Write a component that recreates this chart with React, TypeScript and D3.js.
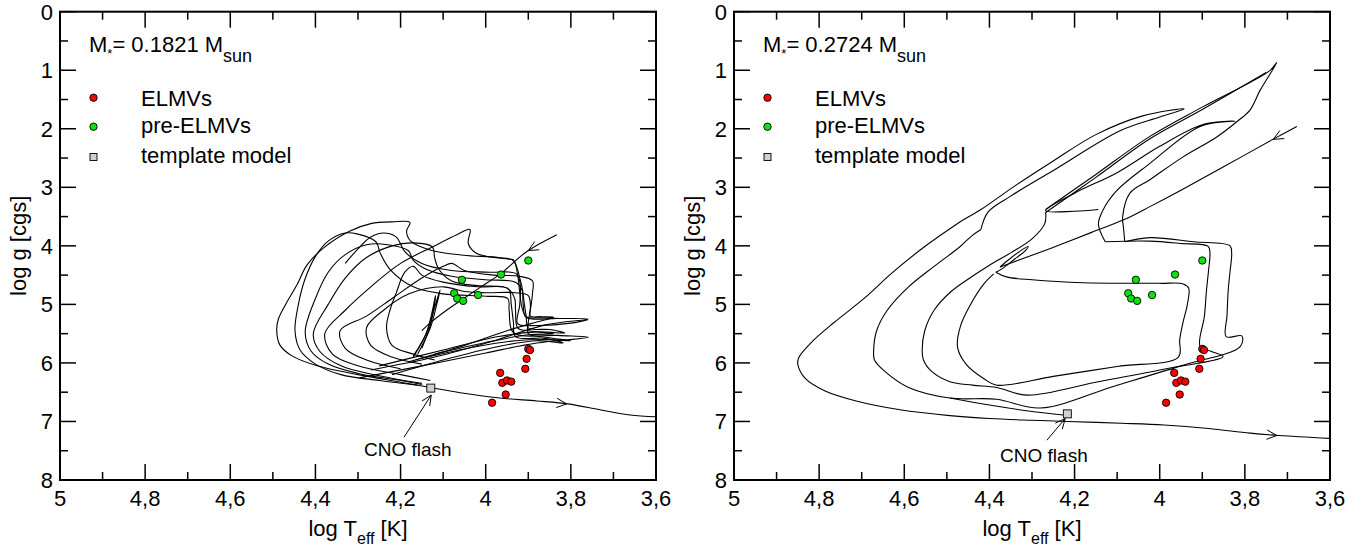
import React from "react";
import * as d3 from "d3";

type P = [number, number];

const xMajor = [5, 4.8, 4.6, 4.4, 4.2, 4, 3.8, 3.6];
const xMajorLabels = ["5", "4,8", "4,6", "4,4", "4,2", "4", "3,8", "3,6"];
const xMinor = [4.9, 4.7, 4.5, 4.3, 4.1, 3.9, 3.7];
const yMajor = [0, 1, 2, 3, 4, 5, 6, 7, 8];
const yMinor = [0.5, 1.5, 2.5, 3.5, 4.5, 5.5, 6.5, 7.5];

const elmvs: P[] = [
  [3.9, 5.76], [3.896, 5.78], [3.904, 5.93], [3.907, 6.1], [3.966, 6.17],
  [3.961, 6.34], [3.95, 6.3], [3.94, 6.32], [3.953, 6.54], [3.985, 6.68],
];
const preElmvs: P[] = [
  [3.9, 4.25], [3.964, 4.49], [4.056, 4.58], [4.074, 4.81], [4.067, 4.9],
  [4.053, 4.94], [4.018, 4.84],
];

// ---------- left panel (0.1821 Msun) tracks ----------
const lArrival: P[] = [[3.833, 3.81], [3.904, 4.1], [3.964, 4.47], [4.013, 4.71], [4.056, 4.92], [4.092, 5.1], [4.131, 5.32], [4.15, 5.45]];
const lOuter: P[] = [
  [3.84, 5.22], [3.875, 5.23], [3.905, 5.21], [3.915, 5.05], [3.92, 4.8], [3.925, 4.5], [3.935, 4.25], [3.97, 4.2],
  [4.053, 4.16], [4.131, 4.07], [4.176, 3.92], [4.186, 3.75], [4.178, 3.6], [4.22, 3.59], [4.27, 3.62], [4.32, 3.75],
  [4.38, 4.03], [4.42, 4.33], [4.443, 4.66], [4.47, 5.0], [4.487, 5.25], [4.491, 5.44], [4.483, 5.7], [4.455, 5.88],
  [4.4, 6.04], [4.3, 6.2], [4.2, 6.33], [4.13, 6.42], [4.06, 6.51], [3.967, 6.6], [3.88, 6.65], [3.807, 6.7],
  [3.732, 6.8], [3.661, 6.89], [3.6, 6.92],
];
const lB: P[] = [
  [4.3, 6.26], [4.15, 6.05], [4.0, 5.83], [3.88, 5.66], [3.759, 5.56], [3.83, 5.53], [3.935, 5.48], [3.945, 5.1],
  [3.948, 4.9], [4.0, 4.86], [4.1, 4.82], [4.17, 4.7], [4.225, 4.4], [4.248, 4.12], [4.258, 3.93], [4.3, 3.8],
  [4.33, 3.78], [4.37, 3.92], [4.4, 4.18], [4.425, 4.58], [4.44, 5.0], [4.448, 5.45], [4.436, 5.78], [4.4, 6.02],
  [4.34, 6.2], [4.25, 6.3], [4.16, 6.38],
];
const lC: P[] = [
  [4.27, 6.12], [4.12, 5.9], [3.98, 5.62], [3.86, 5.35], [3.759, 5.25], [3.83, 5.24], [3.905, 5.22], [3.912, 5.0],
  [3.915, 4.75], [3.93, 4.62], [4.0, 4.58], [4.08, 4.52], [4.14, 4.4], [4.17, 4.25], [4.182, 4.08], [4.23, 3.98],
  [4.28, 3.98], [4.33, 4.15], [4.37, 4.45], [4.4, 4.9], [4.424, 5.47], [4.41, 5.8], [4.37, 6.02], [4.3, 6.18],
  [4.2, 6.3], [4.15, 6.37],
];
const lD: P[] = [
  [4.22, 6.2], [4.1, 5.95], [3.97, 5.72], [3.88, 5.62], [3.818, 5.66], [3.86, 5.58], [3.93, 5.55], [3.935, 5.3],
  [3.94, 5.0], [3.945, 4.75], [3.96, 4.7], [4.02, 4.68], [4.08, 4.6], [4.11, 4.4], [4.12, 4.2], [4.125, 4.02],
  [4.17, 3.95], [4.22, 4.0], [4.28, 4.2], [4.33, 4.55], [4.37, 5.0], [4.405, 5.5], [4.39, 5.8], [4.34, 6.05],
  [4.25, 6.22], [4.15, 6.35],
];
const lE: P[] = [
  [4.25, 6.05], [4.1, 5.78], [3.97, 5.55], [3.88, 5.47], [3.814, 5.49], [3.85, 5.43], [3.9, 5.4], [3.905, 5.2],
  [3.91, 4.95], [3.915, 4.7], [3.935, 4.24], [3.943, 4.23], [4.021, 4.13], [4.041, 3.96], [4.037, 3.72], [4.068, 3.81],
  [4.123, 4.01], [4.2, 4.3], [4.27, 4.7], [4.33, 5.1], [4.378, 5.5], [4.36, 5.85], [4.3, 6.05], [4.2, 6.2], [4.13, 6.3],
];
const lF: P[] = [
  [4.18, 5.98], [4.05, 5.7], [3.95, 5.45], [3.88, 5.3], [3.841, 5.22], [3.87, 5.21], [3.895, 5.2], [3.893, 5.0],
  [3.89, 4.8], [3.89, 4.6], [3.92, 4.52], [3.98, 4.5], [4.05, 4.42], [4.08, 4.3], [4.1, 4.35], [4.15, 4.55],
  [4.22, 4.9], [4.28, 5.2], [4.342, 5.45], [4.33, 5.75], [4.28, 5.95], [4.2, 6.1],
];
const lG: P[] = [
  [4.15, 5.92], [4.02, 5.72], [3.93, 5.62], [3.86, 5.6], [3.8, 5.62], [3.86, 5.56], [3.9, 5.5], [3.9, 5.3],
  [3.895, 5.05], [3.9, 4.85], [3.93, 4.8], [4.0, 4.8], [4.05, 4.78], [4.1, 4.7], [4.18, 4.82], [4.24, 5.1],
  [4.28, 5.4], [4.27, 5.7], [4.22, 5.9], [4.15, 6.02],
];
const lH: P[] = [
  [4.12, 5.85], [4.0, 5.65], [3.9, 5.52], [3.84, 5.5], [3.9, 5.45], [3.925, 5.4], [3.93, 5.1], [3.932, 4.9],
  [3.95, 4.72], [4.02, 4.7], [4.1, 4.62], [4.15, 4.5], [4.17, 4.35], [4.19, 4.45], [4.21, 4.8], [4.225, 5.1],
  [4.233, 5.4], [4.22, 5.7], [4.17, 5.85], [4.12, 5.95],
];
const lI: P[] = [
  [4.33, 4.3], [4.3, 4.05], [4.27, 3.85], [4.24, 3.78], [4.21, 3.85], [4.19, 4.1], [4.15, 4.3], [4.08, 4.42],
  [3.99, 4.45], [3.93, 4.47], [3.92, 4.6], [3.92, 5.0], [3.925, 5.33], [3.88, 5.36], [3.8, 5.32], [3.76, 5.26],
];
const lSpike: P[] = [[4.17, 5.88], [4.14, 5.5], [4.12, 5.05], [4.107, 4.75], [4.115, 5.0], [4.13, 5.4], [4.16, 5.85]];
const lSpike2: P[] = [[4.15, 5.75], [4.13, 5.35], [4.12, 5.0], [4.118, 4.85], [4.125, 5.1], [4.14, 5.5], [4.17, 5.9]];

// ---------- right panel (0.2724 Msun) tracks ----------
const rArrival: P[] = [[3.678, 1.96], [3.729, 2.16], [3.85, 2.65], [3.95, 3.05], [4.023, 3.33], [4.086, 3.56], [4.16, 3.77], [4.23, 3.97], [4.3, 4.16], [4.375, 4.36]];
const rKnot: P[] = [[4.375, 4.36], [4.352, 4.22], [4.33, 4.1], [4.309, 4.01], [4.318, 4.1], [4.34, 4.22], [4.368, 4.38], [4.385, 4.45]];
const rOuter: P[] = [
  [4.465, 3.57], [4.548, 3.99], [4.63, 4.47], [4.693, 4.89], [4.765, 5.31], [4.817, 5.64], [4.848, 5.91], [4.85, 6.03],
  [4.832, 6.27], [4.786, 6.48], [4.713, 6.65], [4.61, 6.8], [4.493, 6.9], [4.4, 6.95], [4.3, 6.98], [4.216, 7.0],
  [4.09, 7.03], [3.99, 7.06], [3.885, 7.12], [3.788, 7.2], [3.72, 7.24], [3.597, 7.29],
];
const rU1: P[] = [
  [4.465, 3.57], [4.42, 3.38], [4.341, 2.98], [4.25, 2.55], [4.15, 2.1], [4.04, 1.78], [3.942, 1.66], [4.0, 1.8],
  [4.092, 2.03], [4.247, 2.7], [4.35, 3.15], [4.403, 3.42], [4.42, 3.72],
];
const rD: P[] = [
  [4.385, 4.45], [4.36, 4.53], [4.3, 4.58], [4.18, 4.63], [4.0, 4.64], [3.945, 4.65], [3.932, 4.72], [3.935, 5.0],
  [3.945, 5.3], [3.953, 5.6], [3.956, 5.9], [4.1, 6.06], [4.25, 6.23], [4.383, 6.38], [4.413, 6.27], [4.454, 6.03],
  [4.475, 5.73], [4.468, 5.37], [4.445, 5.01], [4.413, 4.65], [4.39, 4.48],
];
const rC: P[] = [
  [4.128, 3.93], [4.023, 3.92], [3.95, 3.96], [3.886, 4.01], [3.882, 4.12], [3.885, 4.4], [3.89, 4.75], [3.895, 5.2],
  [3.905, 5.72], [3.88, 5.8], [3.851, 5.89], [4.0, 6.12], [4.15, 6.33], [4.312, 6.55], [4.383, 6.42], [4.44, 6.38],
  [4.493, 6.32], [4.535, 6.15], [4.555, 5.95], [4.558, 5.79], [4.552, 5.45], [4.53, 5.1], [4.49, 4.78], [4.44, 4.52],
  [4.4, 4.33], [4.35, 4.12], [4.3, 3.88], [4.27, 3.62], [4.268, 3.42],
];
const rB: P[] = [
  [4.082, 3.93], [4.023, 3.86], [3.92, 3.93], [3.835, 4.0], [3.831, 4.13], [3.835, 4.45], [3.839, 4.75], [3.842, 5.2],
  [3.844, 5.55], [3.807, 5.54], [3.811, 5.72], [3.95, 6.05], [4.1, 6.38], [4.281, 6.77], [4.383, 6.62], [4.493, 6.6],
  [4.59, 6.42], [4.645, 6.15], [4.67, 5.95], [4.672, 5.79], [4.665, 5.45], [4.64, 5.1], [4.59, 4.7], [4.53, 4.35],
  [4.47, 4.02], [4.44, 3.82], [4.42, 3.72],
];
const rToSquare: P[] = [[4.493, 6.6], [4.4, 6.72], [4.3, 6.83], [4.227, 6.89]];
const rU2: P[] = [
  [4.082, 3.93], [4.085, 3.7], [4.087, 3.5], [4.07, 3.1], [4.023, 2.87], [3.945, 2.48], [3.866, 2.14], [3.819, 1.88],
  [3.788, 1.68], [3.764, 1.34], [3.725, 0.87], [3.742, 1.01], [3.9, 1.63], [4.023, 2.13], [4.15, 2.78], [4.268, 3.38],
];
const rU2b: P[] = [[4.268, 3.43], [4.15, 2.83], [4.023, 2.17], [3.9, 1.67], [3.75, 1.04]];
const rU3: P[] = [
  [4.128, 3.93], [4.144, 3.63], [4.134, 3.4], [4.1, 3.05], [4.023, 2.59], [3.905, 1.96], [3.823, 1.87], [3.9, 1.93],
  [4.0, 2.3], [4.1, 2.75], [4.2, 3.1], [4.268, 3.4], [4.2, 3.41], [4.144, 3.38],
];

const leftTracks: P[][] = [lArrival, lOuter, lB, lC, lD, lE, lF, lG, lH, lI, lSpike, lSpike2];
const rightTracks: P[][] = [rArrival, rKnot, rOuter, rU1, rD, rC, rB, rToSquare, rU2, rU2b, rU3];

type Arrow = { from: P; to: P };
const leftArrows: Arrow[] = [
  { from: [3.833, 3.81], to: [3.9, 4.08] },
  { from: [3.88, 6.65], to: [3.81, 6.7] },
];
const rightArrows: Arrow[] = [
  { from: [3.678, 1.96], to: [3.733, 2.18] },
  { from: [3.79, 7.2], to: [3.725, 7.24] },
];

const templateLeft: P = [4.129, 6.43];
const templateRight: P = [4.217, 6.87];
const cnoLeft: { arrow: [P, P]; text: P } = { arrow: [[4.192, 7.27], [4.128, 6.55]], text: [4.183, 7.59] };
const cnoRight: { arrow: [P, P]; text: P } = { arrow: [[4.265, 7.32], [4.222, 6.95]], text: [4.272, 7.7] };

const FONT = "'Liberation Sans', Arial, Helvetica, sans-serif";
const PW = 596;
const TOP = 11.7;
const BOTTOM = 480;

function chevron(x: number, y: number, ang: number, key: string) {
  const L = 11;
  const a = (25 * Math.PI) / 180;
  const p1 = [x - L * Math.cos(ang - a), y - L * Math.sin(ang - a)];
  const p2 = [x - L * Math.cos(ang + a), y - L * Math.sin(ang + a)];
  return (
    <path
      key={key}
      d={`M${p1[0]},${p1[1]}L${x},${y}L${p2[0]},${p2[1]}`}
      fill="none"
      stroke="#000"
      strokeWidth={1}
    />
  );
}

function Panel(props: {
  x0: number;
  id: string;
  massText: string;
  tracks: P[][];
  arrows: Arrow[];
  template: P;
  cno: { arrow: [P, P]; text: P };
}) {
  const { x0, id, massText, tracks, arrows, template, cno } = props;
  const xs = d3.scaleLinear().domain([5, 3.6]).range([x0, x0 + PW]);
  const ys = d3.scaleLinear().domain([0, 8]).range([TOP, BOTTOM]);
  const line = d3
    .line<P>()
    .x((d) => xs(d[0]))
    .y((d) => ys(d[1]))
    .curve(d3.curveCatmullRom.alpha(0.5));
  const x1 = x0 + PW;
  const ca = cno.arrow;
  const cax0 = xs(ca[0][0]), cay0 = ys(ca[0][1]), cax1 = xs(ca[1][0]), cay1 = ys(ca[1][1]);
  return (
    <g>
      <defs>
        <clipPath id={id}>
          <rect x={x0} y={TOP} width={PW} height={BOTTOM - TOP} />
        </clipPath>
      </defs>
      <g clipPath={`url(#${id})`}>
        {tracks.map((t, i) => (
          <path key={i} d={line(t) || ""} fill="none" stroke="#000" strokeWidth={1.1} />
        ))}
        {arrows.map((a, i) => {
          const xa = xs(a.to[0]), ya = ys(a.to[1]);
          const ang = Math.atan2(ya - ys(a.from[1]), xa - xs(a.from[0]));
          return chevron(xa, ya, ang, "a" + i);
        })}
      </g>
      <line x1={cax0} y1={cay0} x2={cax1} y2={cay1} stroke="#000" strokeWidth={1} />
      {chevron(cax1, cay1, Math.atan2(cay1 - cay0, cax1 - cax0), "cno")}
      <text x={xs(cno.text[0])} y={ys(cno.text[1])} fontSize={19} textAnchor="middle" fontFamily={FONT}>
        CNO flash
      </text>
      {preElmvs.map((d, i) => (
        <circle key={"g" + i} cx={xs(d[0])} cy={ys(d[1])} r={3.7} fill="#10e010" stroke="#000" strokeWidth={0.9} />
      ))}
      {elmvs.map((d, i) => (
        <circle key={"r" + i} cx={xs(d[0])} cy={ys(d[1])} r={3.7} fill="#ff0000" stroke="#000" strokeWidth={0.9} />
      ))}
      <rect x={xs(template[0]) - 4} y={ys(template[1]) - 4} width={8} height={8} fill="#d0d0d0" stroke="#000" strokeWidth={0.9} />
      <rect x={x0} y={TOP} width={PW} height={BOTTOM - TOP} fill="none" stroke="#000" strokeWidth={2} />
      {xMajor.map((v, i) => (
        <g key={"xm" + i}>
          <line x1={xs(v)} x2={xs(v)} y1={BOTTOM} y2={BOTTOM - 16} stroke="#000" strokeWidth={1.5} />
          <line x1={xs(v)} x2={xs(v)} y1={TOP} y2={TOP + 16} stroke="#000" strokeWidth={1.5} />
          <text x={xs(v)} y={506} fontSize={22} textAnchor="middle" fontFamily={FONT}>
            {xMajorLabels[i]}
          </text>
        </g>
      ))}
      {xMinor.map((v, i) => (
        <g key={"xn" + i}>
          <line x1={xs(v)} x2={xs(v)} y1={BOTTOM} y2={BOTTOM - 8} stroke="#000" strokeWidth={1.5} />
          <line x1={xs(v)} x2={xs(v)} y1={TOP} y2={TOP + 8} stroke="#000" strokeWidth={1.5} />
        </g>
      ))}
      {yMajor.map((v, i) => (
        <g key={"ym" + i}>
          <line x1={x0} x2={x0 + 16} y1={ys(v)} y2={ys(v)} stroke="#000" strokeWidth={1.5} />
          <line x1={x1} x2={x1 - 16} y1={ys(v)} y2={ys(v)} stroke="#000" strokeWidth={1.5} />
          <text x={x0 - 7} y={ys(v) + 8} fontSize={22} textAnchor="end" fontFamily={FONT}>
            {String(v)}
          </text>
        </g>
      ))}
      {yMinor.map((v, i) => (
        <g key={"yn" + i}>
          <line x1={x0} x2={x0 + 8} y1={ys(v)} y2={ys(v)} stroke="#000" strokeWidth={1.5} />
          <line x1={x1} x2={x1 - 8} y1={ys(v)} y2={ys(v)} stroke="#000" strokeWidth={1.5} />
        </g>
      ))}
      <text x={x0 + PW / 2} y={536} fontSize={22} textAnchor="middle" fontFamily={FONT}>
        log T<tspan fontSize={16} dy={8}>eff</tspan>
        <tspan dy={-8}> [K]</tspan>
      </text>
      <text transform={`translate(${x0 - 34},${(TOP + BOTTOM) / 2}) rotate(-90)`} fontSize={22} textAnchor="middle" fontFamily={FONT}>
        log g [cgs]
      </text>
      <text x={x0 + 29} y={52} fontSize={22} fontFamily={FONT}>
        M<tspan fontSize={13} dy={6}>*</tspan>
        <tspan dy={-6}>= {massText} M</tspan>
        <tspan fontSize={18} dy={10}>sun</tspan>
      </text>
      <circle cx={x0 + 33.5} cy={97.7} r={3.7} fill="#ff0000" stroke="#000" strokeWidth={0.9} />
      <text x={x0 + 81} y={106} fontSize={22} fontFamily={FONT}>ELMVs</text>
      <circle cx={x0 + 33.5} cy={126.7} r={3.7} fill="#10e010" stroke="#000" strokeWidth={0.9} />
      <text x={x0 + 81} y={132.7} fontSize={22} fontFamily={FONT}>pre-ELMVs</text>
      <rect x={x0 + 30} y={153.5} width={7} height={7} fill="#d0d0d0" stroke="#000" strokeWidth={0.9} />
      <text x={x0 + 81} y={163} fontSize={22} fontFamily={FONT}>template model</text>
    </g>
  );
}

export default function App() {
  return (
    <svg
      width={1369}
      height={550}
      style={{ position: "absolute", left: 0, top: 0, background: "#fff" }}
      xmlns="http://www.w3.org/2000/svg"
    >
      <rect x={0} y={0} width={1369} height={550} fill="#fff" />
      <Panel x0={60} id="clipL" massText="0.1821" tracks={leftTracks} arrows={leftArrows} template={templateLeft} cno={cnoLeft} />
      <Panel x0={734} id="clipR" massText="0.2724" tracks={rightTracks} arrows={rightArrows} template={templateRight} cno={cnoRight} />
    </svg>
  );
}
